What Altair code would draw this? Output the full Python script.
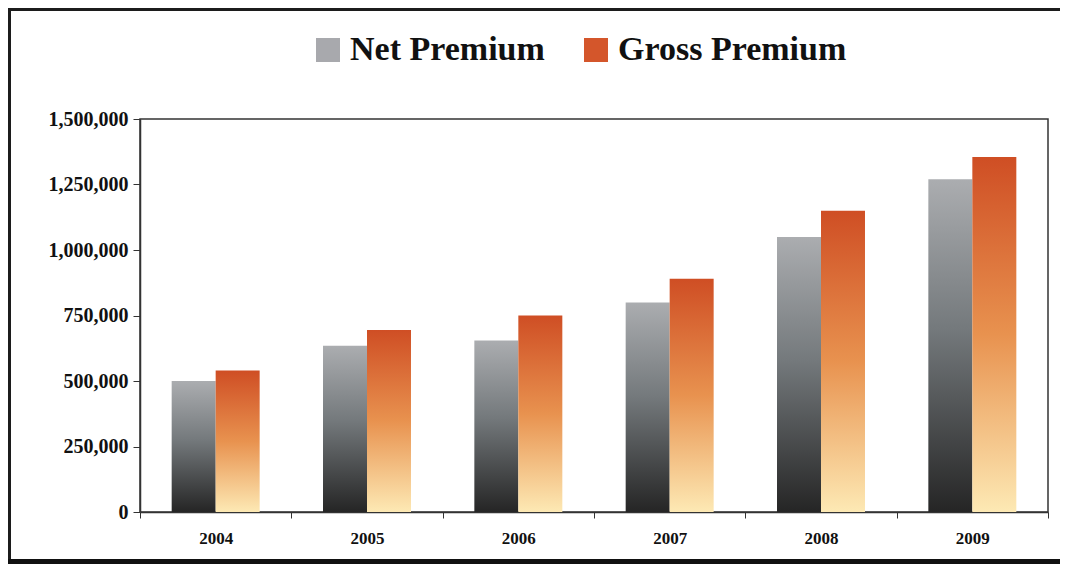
import altair as alt
import pandas as pd

years = ["2004", "2005", "2006", "2007", "2008", "2009"]
net_premium = [500000, 635000, 655000, 800000, 1050000, 1270000]
gross_premium = [540000, 695000, 750000, 890000, 1150000, 1355000]
series = ["Net Premium", "Gross Premium"]
y_ticks = [0, 250000, 500000, 750000, 1000000, 1250000, 1500000]

df = pd.DataFrame({
    "year": years * 2,
    "series": [series[0]] * len(years) + [series[1]] * len(years),
    "value": net_premium + gross_premium,
})

net_grad = {
    "gradient": "linear", "x1": 0, "y1": 0, "x2": 0, "y2": 1,
    "stops": [
        {"offset": 0, "color": "#abadb0"},
        {"offset": 0.45, "color": "#74797c"},
        {"offset": 1, "color": "#252525"},
    ],
}
gross_grad = {
    "gradient": "linear", "x1": 0, "y1": 0, "x2": 0, "y2": 1,
    "stops": [
        {"offset": 0, "color": "#cf4e24"},
        {"offset": 0.5, "color": "#e8924f"},
        {"offset": 1, "color": "#fde9b4"},
    ],
}

FONT = "Liberation Serif"

x_enc = alt.X(
    "year:N",
    sort=years,
    scale=alt.Scale(paddingInner=0, paddingOuter=0),
    axis=alt.Axis(
        title=None, labelAngle=0, tickBand="extent", tickSize=6,
        labelPadding=12, labelFont=FONT, labelFontSize=17,
        labelFontWeight="bold", labelColor="#111111",
        domainColor="#333333", tickColor="#333333", domainWidth=1.5,
    ),
)
xo_enc = alt.XOffset(
    "series:N", sort=series,
    scale=alt.Scale(domain=series, paddingInner=0, paddingOuter=0.72),
)
y_enc = alt.Y(
    "value:Q",
    scale=alt.Scale(domain=[0, 1500000], nice=False),
    axis=alt.Axis(
        title=None, values=y_ticks, labelExpr="format(datum.value, ',.0f')",
        grid=False, tickSize=7,
        labelPadding=5, labelFont=FONT, labelFontSize=20,
        labelFontWeight="bold", labelColor="#111111",
        domainColor="#333333", tickColor="#333333", domainWidth=1.5,
    ),
)

base = alt.Chart(df)

net_bars = base.transform_filter(alt.datum.series == series[0]).mark_bar(
    color=net_grad
).encode(x=x_enc, xOffset=xo_enc, y=y_enc)

gross_bars = base.transform_filter(alt.datum.series == series[1]).mark_bar(
    color=gross_grad
).encode(x=x_enc, xOffset=xo_enc, y=y_enc)

legend_layer = base.mark_square(opacity=0).encode(
    color=alt.Color(
        "series:N",
        sort=series,
        scale=alt.Scale(domain=series, range=["#a8a9ad", "#d4562b"]),
        legend=alt.Legend(
            orient="none", legendX=171, legendY=-86, direction="horizontal",
            title=None, symbolType="square", symbolSize=576, symbolOpacity=1,
            symbolStrokeWidth=0, labelFont=FONT, labelFontSize=34,
            labelFontWeight="bold", labelColor="#111111", labelOffset=5,
            labelLimit=500, columnPadding=34,
        ),
    )
)

frame_data = alt.Data(values=[{"k": 1}])
top_line = alt.Chart(frame_data).mark_rule(color="#1c1c1c", strokeWidth=3).encode(
    x=alt.value(-132), x2=alt.value(920), y=alt.value(-109.5)
)
left_line = alt.Chart(frame_data).mark_rule(color="#1c1c1c", strokeWidth=3).encode(
    x=alt.value(-130.5), y=alt.value(-111), y2=alt.value(445)
)
bottom_line = alt.Chart(frame_data).mark_rule(color="#111111", strokeWidth=5).encode(
    x=alt.value(-132), x2=alt.value(920), y=alt.value(442.5)
)

chart = alt.layer(
    net_bars, gross_bars, legend_layer, top_line, left_line, bottom_line
).properties(
    width=908, height=393,
    autosize=alt.AutoSizeParams(type="none"),
    padding={"left": 132, "top": 111, "right": 20, "bottom": 52},
    background="white",
).configure_view(
    stroke="#333333", strokeWidth=1.5
)

chart.save("out.html", embed_options={"renderer": "svg", "actions": False})
